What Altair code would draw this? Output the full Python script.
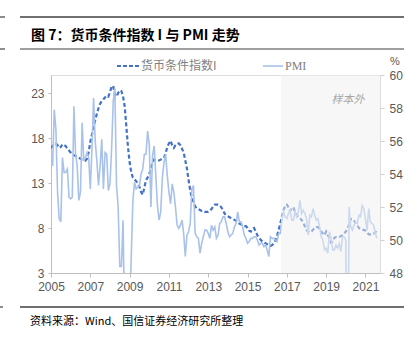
import altair as alt
import pandas as pd

# ---- data (monthly, Jan 2005 - Aug 2021) ----
mci_2005 = [16.9, 17.1, 17.3, 17.4, 17.2, 16.9, 17.0, 17.3, 17.2, 17.1, 16.8, 16.6]
mci_2006 = [16.4, 16.2, 16.1, 16.0, 15.9, 15.8, 15.7, 15.6, 15.6, 15.5, 15.7, 16.4]
mci_2007 = [17.6, 18.4, 19.2, 20.0, 20.7, 21.3, 21.8, 22.1, 22.3, 22.5, 22.7, 22.6]
mci_2008 = [23.1, 23.7, 23.8, 22.8, 22.6, 23.0, 23.3, 23.2, 22.6, 21.5, 19.3, 17.0]
mci_2009 = [15.3, 14.2, 13.6, 13.4, 13.2, 12.9, 12.6, 12.0, 11.7, 12.5, 13.3, 13.6]
mci_2010 = [14.0, 14.6, 15.2, 15.6, 15.5, 15.5, 15.5, 15.6, 15.7, 15.8, 16.3, 17.0]
mci_2011 = [17.4, 17.7, 17.2, 16.9, 17.2, 17.4, 17.4, 17.2, 16.8, 16.4, 15.5, 14.6]
mci_2012 = [13.3, 12.2, 11.3, 10.9, 10.4, 10.2, 10.1, 10.0, 9.9, 9.9, 9.8, 9.8]
mci_2013 = [9.8, 9.9, 10.1, 10.4, 10.6, 10.6, 10.6, 10.5, 10.3, 10.0, 9.6, 9.4]
mci_2014 = [9.3, 9.2, 9.1, 9.0, 8.9, 8.8, 8.7, 8.5, 8.4, 8.3, 8.2, 8.2]
mci_2015 = [8.0, 7.7, 7.6, 7.9, 8.0, 7.6, 7.2, 6.9, 6.7, 6.5, 6.4, 6.3]
mci_2016 = [6.2, 6.1, 6.0, 6.1, 6.3, 6.6, 7.1, 7.8, 8.5, 9.3, 10.0, 10.5]
mci_2017 = [10.6, 10.3, 9.9, 10.2, 10.3, 9.8, 9.5, 9.2, 9.1, 8.9, 8.6, 8.2]
mci_2018 = [7.8, 7.6, 7.5, 7.6, 7.8, 8.0, 8.1, 8.1, 7.9, 7.6, 7.4, 7.2]
mci_2019 = [7.6, 7.2, 6.9, 6.4, 6.5, 6.9, 7.0, 7.0, 7.0, 7.1, 7.2, 7.4]
mci_2020 = [7.6, 7.9, 8.4, 9.0, 9.0, 8.8, 8.6, 8.3, 8.0, 7.9, 7.8, 7.8]
mci_2021 = [7.7, 7.5, 7.3, 7.3, 7.4, 7.4, 7.5, 7.8]

pmi_2005 = [54.7, 54.5, 57.9, 56.7, 52.9, 51.3, 51.1, 55.0, 54.1, 54.1, 54.3, 52.6]
pmi_2006 = [52.5, 52.6, 58.1, 55.2, 54.5, 52.4, 52.9, 57.1, 54.8, 55.0, 55.3, 55.0]
pmi_2007 = [53.1, 55.5, 58.6, 56.0, 54.8, 53.3, 54.5, 56.1, 53.1, 55.3, 55.2, 53.0]
pmi_2008 = [53.4, 55.5, 58.4, 59.2, 53.3, 52.0, 48.4, 48.4, 51.2, 44.6, 38.8, 41.2]
pmi_2009 = [45.3, 49.0, 52.4, 53.5, 53.1, 53.2, 53.3, 54.0, 54.3, 55.2, 55.2, 56.6]
pmi_2010 = [55.8, 52.0, 55.1, 55.7, 53.9, 52.1, 51.2, 51.7, 53.8, 54.7, 55.2, 53.9]
pmi_2011 = [52.9, 52.2, 53.4, 52.9, 52.0, 50.9, 50.7, 50.9, 51.2, 50.4, 49.0, 50.3]
pmi_2012 = [50.5, 51.0, 53.1, 53.3, 50.4, 50.2, 50.1, 49.2, 49.8, 50.2, 50.6, 50.6]
pmi_2013 = [50.4, 50.1, 50.9, 50.6, 50.8, 50.1, 50.3, 51.0, 51.1, 51.4, 51.4, 51.0]
pmi_2014 = [50.5, 50.2, 50.3, 50.4, 50.8, 51.0, 51.7, 51.1, 51.1, 50.8, 50.3, 50.1]
pmi_2015 = [49.8, 49.9, 50.1, 50.1, 50.2, 50.2, 50.0, 49.7, 49.8, 49.8, 49.6, 49.7]
pmi_2016 = [49.4, 49.0, 50.2, 50.1, 50.1, 50.0, 49.9, 50.4, 50.4, 51.2, 51.7, 51.4]
pmi_2017 = [51.3, 51.6, 51.8, 51.2, 51.2, 51.7, 51.4, 51.7, 52.4, 51.6, 51.8, 51.6]
pmi_2018 = [51.3, 50.3, 51.5, 51.4, 51.9, 51.5, 51.2, 51.3, 50.8, 50.2, 50.0, 49.4]
pmi_2019 = [49.5, 49.2, 50.5, 50.1, 49.4, 49.4, 49.7, 49.5, 49.8, 49.3, 50.2, 50.2]
pmi_2020 = [50.0, 35.7, 52.0, 50.8, 50.6, 50.9, 51.1, 51.0, 51.5, 51.4, 52.1, 51.9]
pmi_2021 = [51.3, 50.6, 51.9, 51.1, 51.0, 50.9, 50.4, 50.1]

years = list(range(2005, 2022))
x_ticks = [2005, 2007, 2009, 2011, 2013, 2015, 2017, 2019, 2021]
left_ticks = [3, 8, 13, 18, 23]
right_ticks = [48, 50, 52, 54, 56, 58, 60]
out_of_sample_start = 2016 + 8.5 / 12
x_end = 2021.74

mci_all = [mci_2005, mci_2006, mci_2007, mci_2008, mci_2009, mci_2010, mci_2011, mci_2012,
           mci_2013, mci_2014, mci_2015, mci_2016, mci_2017, mci_2018, mci_2019, mci_2020, mci_2021]
pmi_all = [pmi_2005, pmi_2006, pmi_2007, pmi_2008, pmi_2009, pmi_2010, pmi_2011, pmi_2012,
           pmi_2013, pmi_2014, pmi_2015, pmi_2016, pmi_2017, pmi_2018, pmi_2019, pmi_2020, pmi_2021]

rows = []
for y, mv, pv in zip(years, mci_all, pmi_all):
    for i, (a, b) in enumerate(zip(mv, pv)):
        rows.append({"t": y + i / 12, "mci": a, "pmi": b})
df = pd.DataFrame(rows)

FONT = "Liberation Sans"
CJK = "Noto Sans CJK SC"
W, H = 329, 198

xscale = alt.Scale(domain=[2005, x_end], nice=False, zero=False)
xaxis = alt.Axis(values=x_ticks, format="d", grid=False, domainColor="#bfbfbf", tickColor="#bfbfbf",
                 tickSize=4, labelFont=FONT, labelFontSize=12, labelColor="#595959",
                 labelPadding=4, title=None, labelFlush=False)

base = alt.Chart(df)

mci_line = base.mark_line(color="#4472C4", strokeWidth=2.2, strokeDash=[4, 2.5], clip=True).encode(
    x=alt.X("t:Q", scale=xscale, axis=xaxis),
    y=alt.Y("mci:Q", scale=alt.Scale(domain=[3, 25], nice=False, zero=False),
            axis=alt.Axis(orient="left", values=left_ticks, grid=False, domainColor="#bfbfbf",
                          tickColor="#bfbfbf", tickSize=3, labelFont=FONT, labelFontSize=12,
                          labelColor="#595959", labelPadding=4, title=None)),
)

pmi_line = base.mark_line(color="#A9C2EA", strokeWidth=1.6, clip=True).encode(
    x=alt.X("t:Q", scale=xscale, axis=xaxis),
    y=alt.Y("pmi:Q", scale=alt.Scale(domain=[48, 60], nice=False, zero=False),
            axis=alt.Axis(orient="right", values=right_ticks, grid=False, domain=False,
                          tickColor="#d0d0d0", tickSize=4, labelFont=FONT, labelFontSize=12,
                          labelColor="#595959", labelPadding=5, title=None)),
)

shade_df = pd.DataFrame({"x0": [out_of_sample_start], "x1": [x_end]})
shade = alt.Chart(shade_df).mark_rect(fill="#f0f0f0", opacity=0.5).encode(
    x=alt.X("x0:Q", scale=xscale, axis=xaxis), x2="x1:Q",
    y=alt.value(0), y2=alt.value(H),
)

one = pd.DataFrame({"a": [0]})

def rule(x1, x2, y, color="#404040", w=1.2, dash=None):
    kw = dict(color=color, strokeWidth=w)
    if dash:
        kw["strokeDash"] = dash
    return alt.Chart(one).mark_rule(**kw).encode(
        x=alt.value(x1), x2=alt.value(x2), y=alt.value(y))

def text(s, x, y, size=12, color="#595959", font=FONT, weight="normal", style="normal", align="left"):
    return alt.Chart(one).mark_text(text=s, fontSize=size, color=color, font=font, fontWeight=weight,
                                    fontStyle=style, align=align, baseline="middle").encode(
        x=alt.value(x), y=alt.value(y))

ox, oy = 51, 75
decor = [
    rule(20 - ox, 404 - ox, 17 - oy, w=1.6),
    rule(20 - ox, 404 - ox, 49 - oy, w=1.2),
    rule(20 - ox, 404 - ox, 307 - oy, w=1.4),
    rule(0 - ox, 5 - ox, 17 - oy, w=1.2),
    rule(0 - ox, 5 - ox, 49 - oy, w=1.2),
    rule(0 - ox, 3 - ox, 307 - oy, w=1.2),
    text("图 7：货币条件指数 I 与 PMI 走势", 31 - ox, 36 - oy, size=14, color="#000000", font=CJK, weight="bold"),
    rule(117 - ox, 139 - ox, 66 - oy, color="#4472C4", w=2.2, dash=[4, 2]),
    text("货币条件指数I", 141 - ox, 66 - oy, size=12, font=CJK, color="#7f7f7f"),
    rule(263 - ox, 283 - ox, 66 - oy, color="#A9C2EA", w=1.6),
    text("PMI", 285 - ox, 66 - oy, size=12, font="Liberation Serif", color="#7f7f7f"),
    text("%", 395 - ox, 62 - oy, size=11, color="#595959", align="center"),
    text("样本外", 348 - ox, 100 - oy, size=11, font=CJK, color="#a6a6a6", style="italic", align="center"),
    text("资料来源：Wind、国信证券经济研究所整理", 30 - ox, 322 - oy, size=11, font=CJK, color="#000000"),
]

chart = alt.layer(mci_line, pmi_line, shade, *decor).resolve_scale(y="independent").properties(
    width=W, height=H,
    autosize=alt.AutoSizeParams(type="none"),
    padding={"left": ox, "top": oy, "right": 418 - ox - W, "bottom": 343 - oy - H},
).configure_view(stroke=None).configure(background="white")

chart.save("out.html", embed_options={"renderer": "svg", "actions": False})
